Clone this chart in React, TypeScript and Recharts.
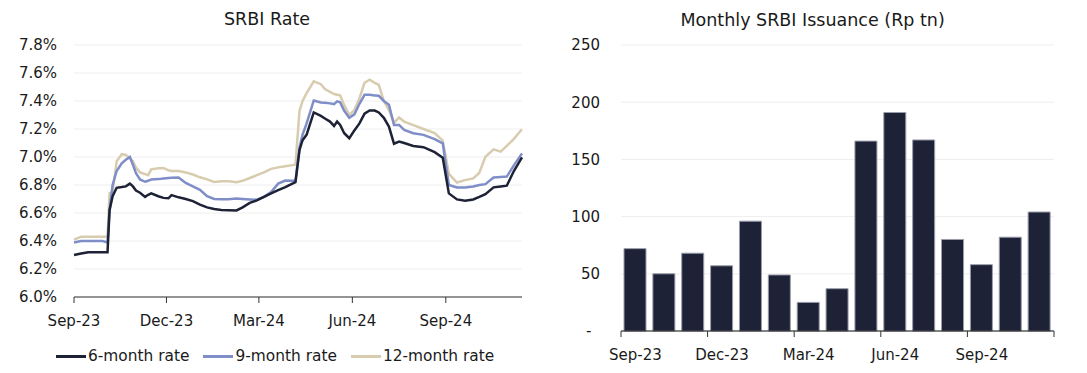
import React from 'react';
import {
  LineChart, Line, BarChart, Bar, XAxis, YAxis, CartesianGrid, Legend,
} from 'recharts';

// ---------- SRBI rate (days since 15 Sep 2023) ----------
const dayOffsets = [0, 7, 14, 21, 28, 33, 35, 38, 42, 47, 51, 55, 58, 61, 65, 70, 73, 76, 83, 88, 93, 96, 103, 110, 117, 124, 131, 138, 145, 152, 160, 166, 173, 180, 187, 194, 201, 208, 215, 218, 222, 225, 229, 236, 243, 247, 252, 256, 259, 262, 266, 271, 276, 281, 286, 291, 296, 300, 305, 310, 315, 320, 325, 334, 344, 355, 363, 369, 377, 385, 393, 399, 405, 413, 420, 426, 433, 441];
const rate6m = [6.30, 6.31, 6.32, 6.32, 6.32, 6.32, 6.62, 6.72, 6.78, 6.785, 6.79, 6.81, 6.79, 6.76, 6.745, 6.715, 6.73, 6.74, 6.72, 6.708, 6.705, 6.728, 6.712, 6.70, 6.685, 6.66, 6.64, 6.628, 6.622, 6.62, 6.618, 6.64, 6.672, 6.69, 6.715, 6.74, 6.763, 6.785, 6.81, 6.82, 7.05, 7.12, 7.16, 7.318, 7.294, 7.275, 7.253, 7.222, 7.253, 7.229, 7.17, 7.134, 7.19, 7.24, 7.31, 7.332, 7.332, 7.318, 7.28, 7.217, 7.095, 7.11, 7.10, 7.079, 7.07, 7.035, 6.995, 6.74, 6.697, 6.687, 6.697, 6.715, 6.735, 6.783, 6.79, 6.795, 6.90, 6.998];
const rate9m = [6.39, 6.40, 6.40, 6.40, 6.40, 6.39, 6.62, 6.80, 6.90, 6.955, 6.98, 7.00, 6.945, 6.885, 6.84, 6.823, 6.83, 6.84, 6.842, 6.847, 6.85, 6.852, 6.854, 6.815, 6.79, 6.765, 6.72, 6.70, 6.699, 6.699, 6.703, 6.70, 6.697, 6.695, 6.715, 6.75, 6.81, 6.832, 6.83, 6.83, 7.07, 7.16, 7.24, 7.404, 7.39, 7.388, 7.383, 7.378, 7.397, 7.39, 7.33, 7.28, 7.305, 7.38, 7.444, 7.444, 7.44, 7.437, 7.40, 7.373, 7.229, 7.229, 7.194, 7.17, 7.158, 7.128, 7.098, 6.80, 6.783, 6.783, 6.79, 6.80, 6.806, 6.854, 6.858, 6.86, 6.94, 7.026];
const rate12m = [6.41, 6.43, 6.43, 6.43, 6.43, 6.43, 6.74, 6.75, 6.97, 7.02, 7.015, 6.99, 6.97, 6.925, 6.89, 6.878, 6.87, 6.912, 6.92, 6.922, 6.905, 6.90, 6.90, 6.89, 6.875, 6.855, 6.84, 6.822, 6.826, 6.826, 6.82, 6.83, 6.85, 6.87, 6.89, 6.915, 6.926, 6.934, 6.942, 6.945, 7.33, 7.40, 7.457, 7.54, 7.52, 7.485, 7.465, 7.45, 7.445, 7.44, 7.37, 7.30, 7.335, 7.42, 7.53, 7.552, 7.53, 7.516, 7.40, 7.335, 7.245, 7.282, 7.253, 7.228, 7.20, 7.17, 7.117, 6.88, 6.818, 6.835, 6.847, 6.888, 7.002, 7.055, 7.038, 7.079, 7.13, 7.198];
const rateTickDays = [0, 91, 182, 274, 366];
const rateTickLabels = ['Sep-23', 'Dec-23', 'Mar-24', 'Jun-24', 'Sep-24'];
const rateYTicks = [6.0, 6.2, 6.4, 6.6, 6.8, 7.0, 7.2, 7.4, 7.6, 7.8];
const legendOrder = ['6-month rate', '9-month rate', '12-month rate'];

// ---------- Monthly issuance ----------
const issuanceMonths = ['Sep-23', 'Oct-23', 'Nov-23', 'Dec-23', 'Jan-24', 'Feb-24', 'Mar-24', 'Apr-24', 'May-24', 'Jun-24', 'Jul-24', 'Aug-24', 'Sep-24', 'Oct-24', 'Nov-24'];
const issuanceValues = [72, 50, 68, 57, 96, 49, 25, 37, 166, 191, 167, 80, 58, 82, 104];
const issuanceYTicks = [0, 50, 100, 150, 200, 250];

const rateData = dayOffsets.map((d, i) => ({
  day: d, r6: rate6m[i], r9: rate9m[i], r12: rate12m[i],
}));
const issuanceData = issuanceMonths.map((m, i) => ({ month: m, value: issuanceValues[i] }));

const FONT = '"DejaVu Sans", sans-serif';
const TXT = '#1a1a1a';
const C6 = '#1e2236';
const C9 = '#7f8ec8';
const C12 = '#d8ccae';
const GRID = '#eeeeee';
const AXIS = '#333333';

const renderLegend = (props: any) => {
  const payload = [...(props.payload || [])].sort(
    (a: any, b: any) => legendOrder.indexOf(a.value) - legendOrder.indexOf(b.value),
  );
  return (
    <div style={{ display: 'flex', alignItems: 'center', paddingLeft: 56, fontFamily: FONT, fontSize: 15.4, color: TXT, lineHeight: '20px', height: 20 }}>
      {payload.map((e: any, i: number) => (
        <div key={i} style={{ display: 'flex', alignItems: 'center', marginRight: 14 }}>
          <span style={{ display: 'inline-block', width: 30, height: 3, background: e.color, marginRight: 2 }} />
          <span>{e.value}</span>
        </div>
      ))}
    </div>
  );
};

const BarXTick = (props: any) => {
  const { x, y, payload, index } = props;
  const i = payload && typeof payload.index === 'number' ? payload.index : index;
  const half = payload && typeof payload.offset === 'number' && payload.offset > 0 ? payload.offset : 14.4;
  const axisY = y - 18;
  const last = issuanceMonths.length - 1;
  return (
    <g>
      {i % 3 === 0 && (
        <line x1={x - half} x2={x - half} y1={axisY} y2={axisY + 6} stroke={AXIS} strokeWidth={1} />
      )}
      {i === last && (
        <line x1={x + half} x2={x + half} y1={axisY} y2={axisY + 6} stroke={AXIS} strokeWidth={1} />
      )}
      {i % 3 === 0 && (
        <text x={x} y={y} dy="0.71em" textAnchor="middle" fill={TXT} fontFamily={FONT} fontSize={15}>
          {payload.value}
        </text>
      )}
    </g>
  );
};

const BarYTick = (props: any) => {
  const { x, y, payload } = props;
  const isZero = payload.value === 0;
  return (
    <text x={isZero ? x - 8.5 : x} y={y} dy="0.355em" textAnchor="end" fill={TXT} fontFamily={FONT} fontSize={15}>
      {isZero ? '-' : payload.value}
    </text>
  );
};

export default function App() {
  return (
    <div style={{ position: 'absolute', left: 0, top: 0, width: 1087, height: 373, background: '#ffffff', overflow: 'hidden' }}>
      <div style={{ position: 'absolute', left: 0, top: 0 }}>
        <LineChart width={540} height={373} data={rateData} margin={{ top: 45, right: 18, bottom: 46, left: 0 }}>
          <CartesianGrid horizontal vertical={false} stroke={GRID} strokeWidth={1} />
          <XAxis
            type="number"
            dataKey="day"
            domain={[0, 441]}
            ticks={rateTickDays}
            interval={0}
            tickFormatter={(d: number) => rateTickLabels[rateTickDays.indexOf(d)] ?? ''}
            height={30}
            tickSize={6}
            tickMargin={12}
            axisLine={{ stroke: AXIS, strokeWidth: 1.2 }}
            tickLine={{ stroke: AXIS, strokeWidth: 1 }}
            tick={{ fill: TXT, fontFamily: FONT, fontSize: 15 }}
          />
          <YAxis
            type="number"
            domain={[6.0, 7.8]}
            ticks={rateYTicks}
            interval={0}
            width={74}
            axisLine={false}
            tickLine={false}
            tickSize={6}
            tickMargin={11}
            tickFormatter={(v: number) => v.toFixed(1) + '%'}
            tick={{ fill: TXT, fontFamily: FONT, fontSize: 15 }}
          />
          <Legend
            layout="vertical"
            align="center"
            verticalAlign="middle"
            content={renderLegend}
            wrapperStyle={{ position: 'absolute', top: 346, left: 0, width: 540, height: 20 }}
          />
          <Line type="linear" dataKey="r12" name="12-month rate" stroke={C12} strokeWidth={2.5} dot={false} activeDot={false} isAnimationActive={false} legendType="line" />
          <Line type="linear" dataKey="r9" name="9-month rate" stroke={C9} strokeWidth={2.5} dot={false} activeDot={false} isAnimationActive={false} legendType="line" />
          <Line type="linear" dataKey="r6" name="6-month rate" stroke={C6} strokeWidth={2.5} dot={false} activeDot={false} isAnimationActive={false} legendType="line" />
        </LineChart>
      </div>
      <div style={{ position: 'absolute', left: 540, top: 0 }}>
        <BarChart width={547} height={373} data={issuanceData} margin={{ top: 45, right: 33, bottom: 12, left: 0 }}>
          <CartesianGrid horizontal vertical={false} stroke={GRID} strokeWidth={1} />
          <XAxis
            dataKey="month"
            interval={0}
            height={30}
            tickSize={6}
            tickMargin={12}
            axisLine={{ stroke: '#111111', strokeWidth: 1.2 }}
            tickLine={false}
            tick={<BarXTick />}
          />
          <YAxis
            type="number"
            domain={[0, 250]}
            ticks={issuanceYTicks}
            interval={0}
            width={81}
            axisLine={false}
            tickLine={false}
            tickSize={6}
            tickMargin={15}
            tick={<BarYTick />}
          />
          <Bar dataKey="value" fill={C6} stroke="#9a9cab" strokeWidth={1} barSize={22} isAnimationActive={false} />
        </BarChart>
      </div>
      <svg width={1087} height={40} style={{ position: 'absolute', left: 0, top: 0, pointerEvents: 'none' }}>
        <text x={267} y={25} textAnchor="middle" fill={TXT} fontFamily={FONT} fontSize={17.5}>SRBI Rate</text>
        <text x={812.6} y={26} textAnchor="middle" fill={TXT} fontFamily={FONT} fontSize={17.5}>Monthly SRBI Issuance (Rp tn)</text>
      </svg>
    </div>
  );
}
